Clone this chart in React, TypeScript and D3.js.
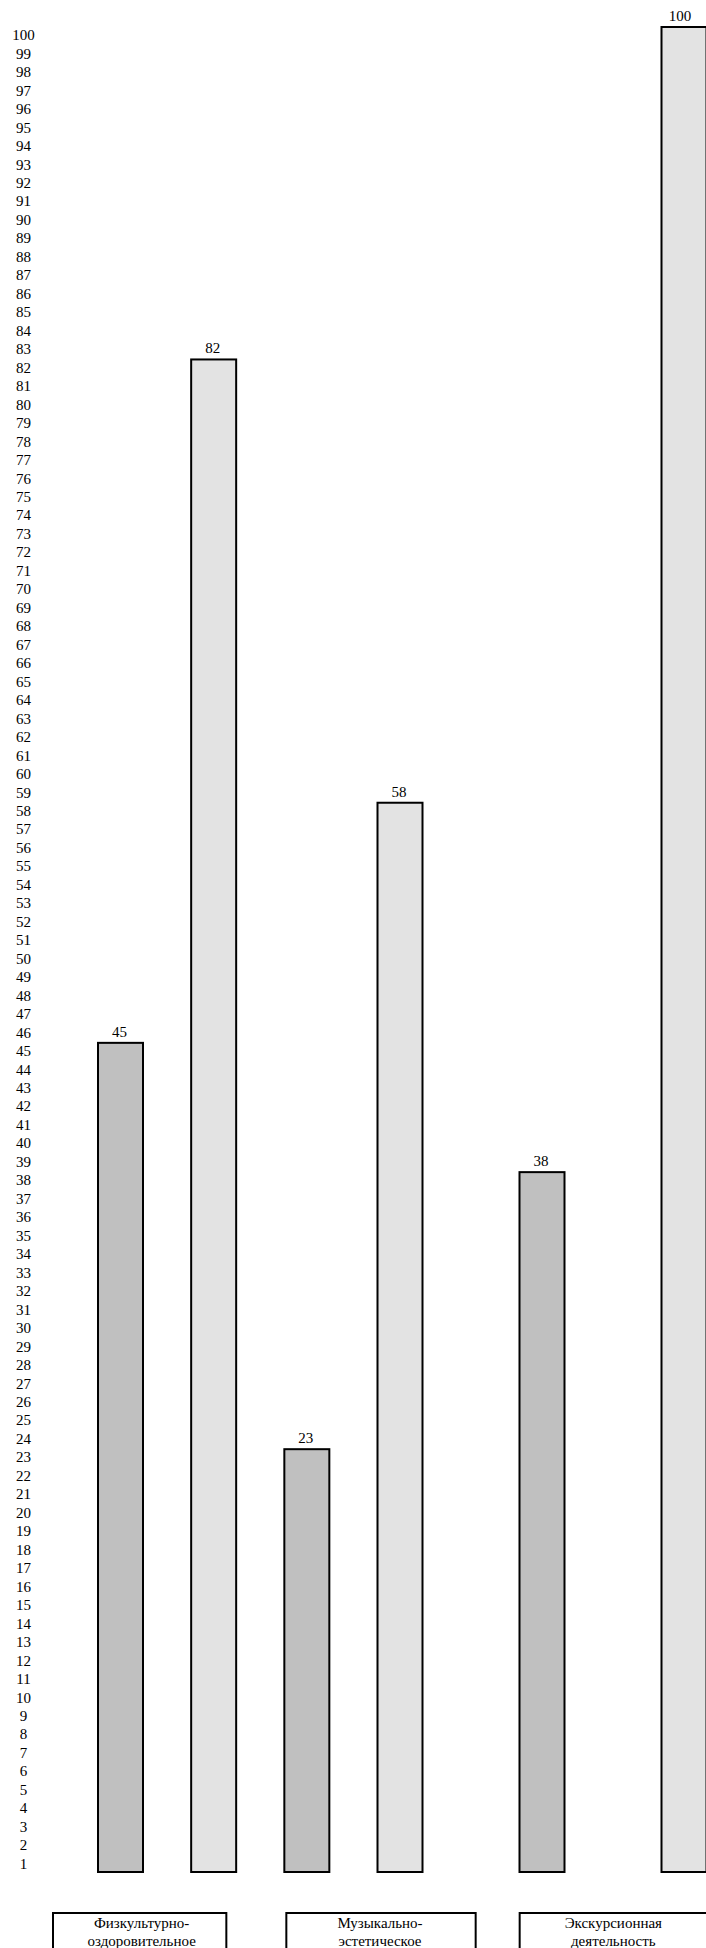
import { useMemo } from 'react';
import * as d3 from 'd3';

const categories = ['Физкультурно-оздоровительное', 'Музыкально-эстетическое', 'Экскурсионная деятельность'];
const categoryLines = [
  ['Физкультурно-', 'оздоровительное'],
  ['Музыкально-', 'эстетическое'],
  ['Экскурсионная', 'деятельность'],
];
const darkValues = [45, 23, 38];
const lightValues = [82, 58, 100];
const yTickValues = d3.range(1, 101);

const WIDTH = 706;
const HEIGHT = 1948;
const FONT = "'Liberation Serif', 'Times New Roman', Times, serif";
const DARK = '#c0c0c0';
const LIGHT = '#e3e3e3';
// the first caption box is drawn a little narrower than the others
const BOX_TRIM = [16, 0, 0];

export default function App() {
  const { y, slot, boxX, bars } = useMemo(() => {
    const y = d3.scaleLinear().domain([0, 100]).range([1873, 26]);
    // bar slots: two per group, third group is spread wider and runs off the page
    const slot = d3.scaleLinear().domain([0, 3, 5]).range([120.5, 400, 684]);
    const boxX = d3.scaleBand<string>().domain(categories).range([52, 710]).paddingInner(0.18);
    const bars = categories.flatMap((c, i) => [
      { key: c + '-a', value: darkValues[i], slotIndex: i * 2, fill: DARK },
      { key: c + '-b', value: lightValues[i], slotIndex: i * 2 + 1, fill: LIGHT },
    ]);
    return { y, slot, boxX, bars };
  }, []);

  const barW = 47;
  const textStyle = { fontFamily: FONT, fontSize: '15px' };

  return (
    <svg
      width={WIDTH}
      height={HEIGHT}
      style={{ position: 'absolute', left: 0, top: 0, display: 'block', background: '#fff' }}
    >
      {/* y labels, each sits in the middle of its unit band */}
      <g textAnchor="middle" fill="#000" style={textStyle}>
        {yTickValues.map(t => (
          <text key={t} x={23.5} y={y(t - 0.5) + 5}>{t}</text>
        ))}
      </g>

      <g>
        {bars.map(b => {
          const cx = slot(b.slotIndex);
          return (
            <g key={b.key}>
              <rect
                x={cx - barW / 2 + 1}
                y={y(b.value) + 1}
                width={barW - 2}
                height={y(0) - y(b.value) - 2}
                fill={b.fill}
                stroke="#000"
                strokeWidth={2}
              />
              <text
                x={b.slotIndex === 5 ? cx - 4 : cx - 1}
                y={y(b.value) - 5}
                textAnchor="middle"
                fill="#000"
                style={textStyle}
              >
                {b.value}
              </text>
            </g>
          );
        })}
      </g>

      <g>
        {categories.map((c, i) => {
          const x0 = boxX(c)!;
          const w = boxX.bandwidth() - BOX_TRIM[i];
          return (
            <g key={c}>
              <rect x={x0 + 1} y={1913} width={w - 2} height={60} fill="#fff" stroke="#000" strokeWidth={2} />
              {categoryLines[i].map((line, j) => (
                <text
                  key={j}
                  x={x0 + w / 2 + (i === 0 ? 2 : -1)}
                  y={1928 + j * 18}
                  textAnchor="middle"
                  fill="#000"
                  style={textStyle}
                >
                  {line}
                </text>
              ))}
            </g>
          );
        })}
      </g>
    </svg>
  );
}
